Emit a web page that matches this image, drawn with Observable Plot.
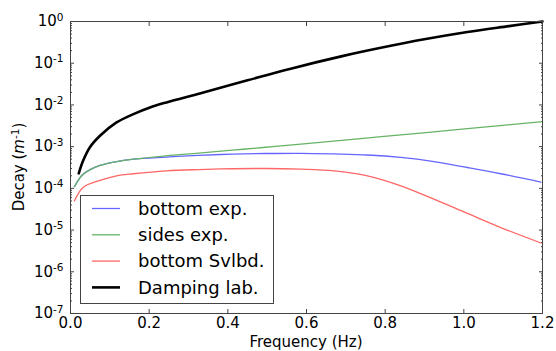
<!DOCTYPE html>
<html><head><meta charset="utf-8">
<script src="https://cdn.jsdelivr.net/npm/d3@7"></script>
<script src="https://cdn.jsdelivr.net/npm/@observablehq/plot@0.6"></script>
<style>
body{margin:0;background:#fff;}
#chart{width:556px;height:351px;}
</style>
</head><body><div id="chart"></div>
<script>
// ---- data ----
const seriesNames = ["bottom exp.", "sides exp.", "bottom Svlbd.", "Damping lab."];
const seriesColors = ["#6666ff", "#66b366", "#ff6666", "#000000"];
const seriesWidths = [1.3, 1.3, 1.3, 2.6];

const bottomExpF = [0.010, 0.03, 0.05, 0.075, 0.117, 0.16, 0.243, 0.326, 0.411, 0.496, 0.585, 0.67, 0.755, 0.84, 0.924, 1.009, 1.094, 1.196];
const bottomExpV = [1.10e-4, 2.09e-4, 2.82e-4, 3.55e-4, 4.37e-4, 5.01e-4, 5.62e-4, 6.17e-4, 6.61e-4, 6.84e-4, 6.92e-4, 6.68e-4, 6.31e-4, 5.50e-4, 4.37e-4, 3.16e-4, 2.24e-4, 1.41e-4];

const sidesExpF = [0.010, 0.03, 0.05, 0.075, 0.117, 0.16, 0.243, 0.326, 0.411, 0.496, 0.6, 0.797, 1.009, 1.2];
const sidesExpV = [1.10e-4, 2.09e-4, 2.82e-4, 3.55e-4, 4.37e-4, 5.01e-4, 6.03e-4, 7.00e-4, 8.22e-4, 9.66e-4, 1.175e-3, 1.76e-3, 2.69e-3, 3.98e-3];

const bottomSvlbdF = [0.010, 0.032, 0.075, 0.117, 0.16, 0.244, 0.326, 0.411, 0.496, 0.585, 0.67, 0.755, 0.84, 0.924, 1.009, 1.094, 1.196];
const bottomSvlbdV = [5.01e-5, 1.05e-4, 1.55e-4, 2.00e-4, 2.24e-4, 2.63e-4, 2.82e-4, 2.95e-4, 2.99e-4, 2.88e-4, 2.63e-4, 2.00e-4, 1.15e-4, 5.50e-5, 2.51e-5, 1.15e-5, 4.90e-6];

const dampingF = [0.021, 0.032, 0.049, 0.075, 0.117, 0.16, 0.202, 0.244, 0.331, 0.45, 0.56, 0.691, 0.789, 0.903, 1.009, 1.115, 1.2];
const dampingV = [2.29e-4, 4.57e-4, 9.55e-4, 1.82e-3, 3.80e-3, 6.03e-3, 8.71e-3, 1.15e-2, 1.91e-2, 3.89e-2, 7.41e-2, 0.148, 0.234, 0.380, 0.562, 0.776, 1.0];

const xTicks = [0, 0.2, 0.4, 0.6, 0.8, 1.0, 1.2];
const yTicks = [1e-7, 1e-6, 1e-5, 1e-4, 1e-3, 1e-2, 1e-1, 1];
const yMinorTicks = d3.range(-7, 0).flatMap(e => d3.range(2, 10).map(m => m * Math.pow(10, e)));

const xLabel = "Frequency (Hz)";

// ---- build table ----
const seriesF = [bottomExpF, sidesExpF, bottomSvlbdF, dampingF];
const seriesV = [bottomExpV, sidesExpV, bottomSvlbdV, dampingV];
const rows = seriesNames.flatMap((name, i) => seriesF[i].map((f, j) => ({series: name, f, v: seriesV[i][j]})));

const axisColor = "#444";
const lineMarks = seriesNames.map((name, i) =>
  Plot.line(rows.filter(r => r.series === name), {
    x: "f", y: "v", stroke: seriesColors[i], strokeWidth: seriesWidths[i], curve: "catmull-rom"
  })
);

const blank = () => "";
const chart = Plot.plot({
  width: 556,
  height: 351,
  marginTop: 21,
  marginBottom: 38,
  marginLeft: 70,
  marginRight: 14,
  style: {fontFamily: "'DejaVu Sans', sans-serif", fontSize: "15px", color: "#000", background: "#fff"},
  x: {domain: [0, 1.2], label: null},
  y: {type: "log", domain: [1e-7, 1], label: null},
  marks: [
    // inward ticks
    Plot.axisX(xTicks, {anchor: "bottom", tickSize: 4, insetBottom: 4, tickFormat: blank, label: null, stroke: axisColor}),
    Plot.axisX(xTicks, {anchor: "top", tickSize: 4, insetTop: 4, tickFormat: blank, label: null, stroke: axisColor}),
    Plot.axisY(yTicks, {anchor: "left", tickSize: 4, insetLeft: 4, tickFormat: blank, label: null, stroke: axisColor}),
    Plot.axisY(yTicks, {anchor: "right", tickSize: 4, insetRight: 4, tickFormat: blank, label: null, stroke: axisColor}),
    Plot.axisY(yMinorTicks, {anchor: "left", tickSize: 2, insetLeft: 2, tickFormat: blank, label: null, stroke: axisColor}),
    Plot.axisY(yMinorTicks, {anchor: "right", tickSize: 2, insetRight: 2, tickFormat: blank, label: null, stroke: axisColor}),
    // tick labels
    Plot.axisX(xTicks, {anchor: "bottom", tickSize: 0, tickPadding: 4, tickFormat: d3.format(".1f"), label: null, fontSize: 15}),
    Plot.axisY(yTicks, {anchor: "left", tickSize: 0, tickPadding: 7, tickFormat: d => "10^" + Math.round(Math.log10(d)), label: null, fontSize: 15}),
    ...lineMarks,
    Plot.frame({stroke: axisColor, strokeWidth: 1})
  ]
});

document.getElementById("chart").appendChild(chart);
const svg = d3.select(chart);

// superscript exponents in y tick labels
svg.selectAll("text").each(function() {
  const t = this.textContent;
  const m = /^10\^(-?\d+)$/.exec(t);
  if (!m) return;
  const el = d3.select(this);
  el.text(null);
  el.append("tspan").text("10");
  el.append("tspan").attr("dy", "-0.55em").attr("font-size", "0.7em").text(m[1]);
});

// axis titles
svg.append("text")
  .attr("x", 306).attr("y", 347)
  .attr("text-anchor", "middle")
  .attr("font-size", 15)
  .attr("fill", "#000")
  .text(xLabel);

const yl = svg.append("text")
  .attr("transform", "translate(24,167) rotate(-90)")
  .attr("text-anchor", "middle")
  .attr("font-size", 15)
  .attr("fill", "#000");
yl.append("tspan").text("Decay (");
yl.append("tspan").attr("font-style", "italic").text("m");
yl.append("tspan").attr("dy", "-0.5em").attr("font-size", "0.7em").text("-1");
yl.append("tspan").attr("dy", "0.35em").text(")");

// legend
const lg = svg.append("g").attr("text-anchor", "start");
lg.append("rect")
  .attr("x", 80.5).attr("y", 195.5).attr("width", 193).attr("height", 108)
  .attr("fill", "#fff").attr("stroke", axisColor).attr("stroke-width", 1);
seriesNames.forEach((name, i) => {
  const cy = 208.5 + i * 26.3;
  lg.append("line")
    .attr("x1", 92).attr("x2", 120).attr("y1", cy).attr("y2", cy)
    .attr("stroke", seriesColors[i]).attr("stroke-width", seriesWidths[i]);
  lg.append("text")
    .attr("x", 138).attr("y", cy).attr("dy", "0.35em")
    .attr("text-anchor", "start")
    .attr("font-size", 18).attr("fill", "#000")
    .text(name);
});
</script>
</body></html>
